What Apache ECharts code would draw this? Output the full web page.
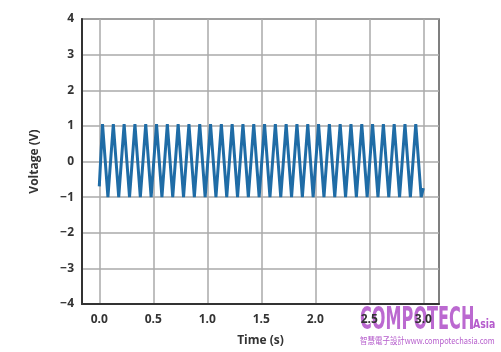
<!DOCTYPE html>
<html>
<head>
<meta charset="utf-8">
<script src="https://cdn.jsdelivr.net/npm/echarts@6/dist/echarts.min.js"></script>
<style>
  html, body { margin: 0; padding: 0; background: #fff; }
  #main { width: 501px; height: 352px; }
</style>
</head>
<body>
<div id="main"></div>
<script>
// values
const timeValues = [
    0.00, 0.03, 0.08, 0.13, 0.18, 0.23, 0.28, 0.33, 0.38, 0.43, 0.48,
    0.53, 0.58, 0.63, 0.68, 0.73, 0.78, 0.83, 0.88, 0.93, 0.98,
    1.03, 1.08, 1.13, 1.18, 1.23, 1.28, 1.33, 1.38, 1.43, 1.48,
    1.53, 1.58, 1.63, 1.68, 1.73, 1.78, 1.83, 1.88, 1.93, 1.98,
    2.03, 2.08, 2.13, 2.18, 2.23, 2.28, 2.33, 2.38, 2.43, 2.48,
    2.53, 2.58, 2.63, 2.68, 2.73, 2.78, 2.83, 2.88, 2.93, 2.98, 3.00
];
const voltValues = [
    -0.7, 1.05, -1, 1.05, -1, 1.05, -1, 1.05, -1, 1.05, -1,
    1.05, -1, 1.05, -1, 1.05, -1, 1.05, -1, 1.05, -1,
    1.05, -1, 1.05, -1, 1.05, -1, 1.05, -1, 1.05, -1,
    1.05, -1, 1.05, -1, 1.05, -1, 1.05, -1, 1.05, -1,
    1.05, -1, 1.05, -1, 1.05, -1, 1.05, -1, 1.05, -1,
    1.05, -1, 1.05, -1, 1.05, -1, 1.05, -1, 1.05, -1, -0.75
];
const xTicks = [0, 0.5, 1, 1.5, 2, 2.5, 3];

const seriesData = timeValues.map((t, i) => [t, voltValues[i]]);

const labelFont = {
    fontFamily: 'Open Sans',
    fontWeight: 'bold',
    fontSize: 12,
    color: '#333'
};

const option = {
    animation: false,
    grid: {
        left: 82,
        right: 62,
        top: 19,
        bottom: 47,
        show: true,
        borderColor: '#555',
        borderWidth: 1.5
    },
    xAxis: {
        type: 'value',
        min: -0.16,
        max: 3.145,
        name: 'Time (s)',
        nameLocation: 'middle',
        nameGap: 31,
        nameTextStyle: labelFont,
        axisLine: { show: true, onZero: false, lineStyle: { color: '#333', width: 2 } },
        axisTick: { show: false, customValues: xTicks },
        axisLabel: Object.assign({
            customValues: xTicks,
            margin: 10,
            formatter: v => v.toFixed(1)
        }, labelFont),
        splitLine: { show: true, lineStyle: { color: '#aaa', width: 1.5 } }
    },
    yAxis: {
        type: 'value',
        min: -4,
        max: 4,
        interval: 1,
        name: 'Voltage (V)',
        nameLocation: 'middle',
        nameGap: 41,
        nameTextStyle: labelFont,
        axisLine: { show: true, onZero: false, lineStyle: { color: '#333', width: 2 } },
        axisTick: { show: false },
        axisLabel: Object.assign({
            margin: 8,
            formatter: v => (v < 0 ? '\u2212' + Math.abs(v) : String(v))
        }, labelFont),
        splitLine: { show: true, lineStyle: { color: '#aaa', width: 1.5 } }
    },
    series: [{
        type: 'line',
        data: seriesData,
        showSymbol: false,
        lineStyle: { color: '#1f6ca6', width: 3 }
    }],
    graphic: [
        {
            type: 'text',
            x: 360,
            y: 305,
            scaleX: 0.56,
            style: {
                text: 'COMPOTECH',
                font: 'bold 32px "DejaVu Sans Condensed"',
                fill: '#b55ccc',
                opacity: 0.92
            }
        },
        {
            type: 'text',
            x: 473,
            y: 318,
            scaleX: 0.8,
            style: {
                text: 'Asia',
                font: 'bold 13px "DejaVu Sans Condensed"',
                fill: '#b55ccc'
            }
        },
        {
            type: 'text',
            x: 360,
            y: 336,
            scaleX: 0.83,
            style: {
                text: '智慧電子設計www.compotechasia.com',
                font: '9px "Noto Sans CJK TC"',
                fill: '#b55ccc'
            }
        }
    ]
};

let plot = echarts.init(document.querySelector('#main'));
plot.setOption(option);
</script>
</body>
</html>
